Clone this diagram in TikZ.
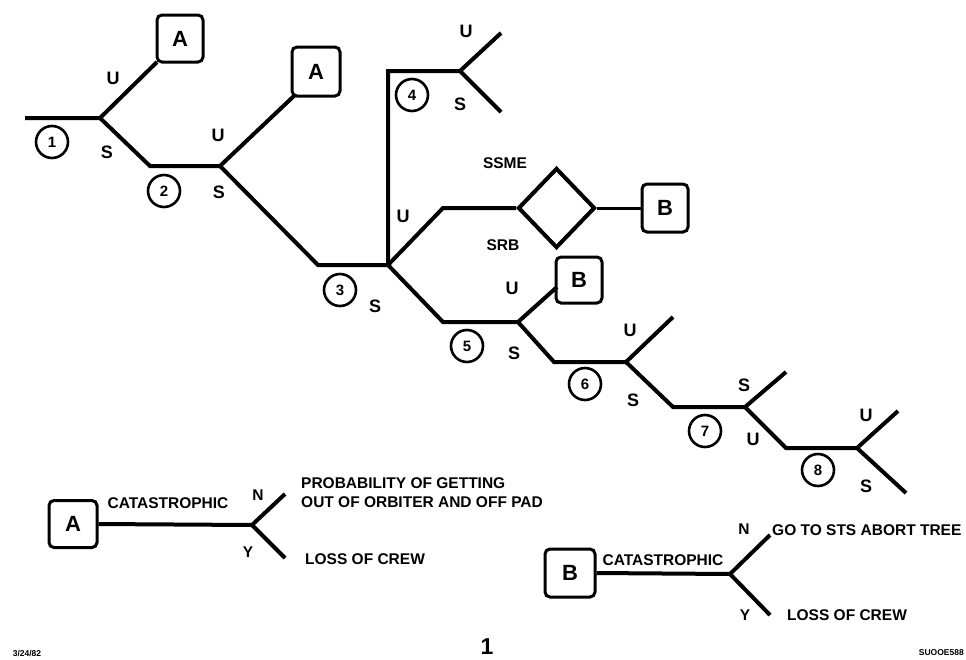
\documentclass[tikz,border=0pt]{standalone}
\usepackage{fontspec}
\setmainfont{Liberation Sans}
\usetikzlibrary{shapes.geometric}
\tikzset{
  tree/.style={line width=4pt, line join=miter, line cap=butt},
  endbox/.style={draw, line width=3pt, rounded corners=5pt, minimum width=46pt, minimum height=47pt, inner sep=0pt, font=\fontsize{22}{22}\selectfont\bfseries},
  num/.style={draw, circle, line width=2.6pt, minimum size=32pt, inner sep=0pt, font=\fontsize{15}{15}\selectfont\bfseries},
  lab/.style={font=\fontsize{18}{18}\selectfont\bfseries, inner sep=0pt},
  txt/.style={font=\fontsize{15.5}{19}\selectfont\bfseries, inner sep=0pt},
  dia/.style={draw, diamond, line width=4pt, minimum width=77pt, minimum height=80pt, inner sep=0pt},
}
\begin{document}
\begin{tikzpicture}[x=1pt, y=-1pt]
\useasboundingbox (0,0) rectangle (966,659);
% ---------- coordinates of the tree
\coordinate (st) at (25,118);
\coordinate (j1) at (100,118);
\coordinate (a1e) at (157,62);
\coordinate (b1) at (150,166);
\coordinate (j2) at (220,166);
\coordinate (a2e) at (295,95);
\coordinate (b2) at (318,265);
\coordinate (j3) at (388,265);
\coordinate (c4) at (388,71);
\coordinate (j4) at (460,71);
\coordinate (u4) at (501,33);
\coordinate (s4) at (501,112);
\coordinate (u3) at (443,208);
\coordinate (b3) at (443,322);
\coordinate (j5) at (518,322);
\coordinate (u5) at (557,287);
\coordinate (b5) at (554,362);
\coordinate (j6) at (626,362);
\coordinate (u6) at (673,317);
\coordinate (b6) at (673,407);
\coordinate (j7) at (745,407);
\coordinate (s7) at (786,372);
\coordinate (b7) at (786,448);
\coordinate (j8) at (857,448);
\coordinate (u8) at (898,411);
\coordinate (s8) at (906,493);
% ---------- end boxes and diamond
\node[endbox] (A1) at (180,38.5) {A};
\node[endbox, minimum width=48pt, minimum height=49pt] (A2) at (316,71.5) {A};
\node[dia] (D) at (556.5,208) {};
\node[endbox, minimum height=48pt] (B1) at (665,208) {B};
\node[endbox, minimum height=46pt] (B2) at (579,280) {B};
% ---------- tree lines
\draw[tree] (st) -- (j1) -- (a1e);
\draw[tree] (j1) -- (b1) -- (j2) -- (a2e);
\draw[tree] (j2) -- (b2) -- (j3);
\draw[tree] (j3) -- (c4) -- (j4) -- (u4);
\draw[tree] (j4) -- (s4);
\draw[tree] (j3) -- (u3) -- (D.west);
\draw[tree, line width=3pt] (D.east) -- (B1.west);
\draw[tree] (j3) -- (b3) -- (j5) -- (u5);
\draw[tree] (j5) -- (b5) -- (j6) -- (u6);
\draw[tree] (j6) -- (b6) -- (j7) -- (s7);
\draw[tree] (j7) -- (b7) -- (j8) -- (u8);
\draw[tree] (j8) -- (s8);
% ---------- numbered circles
\node[num] (n1) at (52,142) {1};
\node[num] (n2) at (164,191) {2};
\node[num] (n3) at (340,290) {3};
\node[num] (n4) at (412,95) {4};
\node[num] (n5) at (467,346) {5};
\node[num] (n6) at (585,384) {6};
\node[num] (n7) at (705,431) {7};
\node[num] (n8) at (818,470) {8};
% ---------- branch labels
\node[lab] (l1u) at (113,78) {U};
\node[lab] (l1s) at (107,152) {S};
\node[lab] (l2u) at (218,135) {U};
\node[lab] (l2s) at (219,192) {S};
\node[lab] (l3u) at (403,216) {U};
\node[lab] (l3s) at (375,306) {S};
\node[lab] (l4u) at (466,31) {U};
\node[lab] (l4s) at (460,104) {S};
\node[txt] (ssme) at (505,163) {SSME};
\node[txt] (srb) at (503,245) {SRB};
\node[lab] (l5u) at (512,288) {U};
\node[lab] (l5s) at (514,353) {S};
\node[lab] (l6u) at (630,330) {U};
\node[lab] (l6s) at (633,400) {S};
\node[lab] (l7s) at (744,385) {S};
\node[lab] (l7u) at (753,439) {U};
\node[lab] (l8u) at (866,415) {U};
\node[lab] (l8s) at (866,486) {S};
% ---------- legend A
\node[endbox, minimum width=48pt] (LA) at (73,524) {A};
\coordinate (ja) at (252,525);
\coordinate (na) at (285,494);
\coordinate (ya) at (285,558);
\draw[tree] (LA.east) -- (ja) -- (na);
\draw[tree] (ja) -- (ya);
\node[txt] (cata) at (168,503) {CATASTROPHIC};
\node[txt] (nA) at (258,495) {N};
\node[txt] (yA) at (248,552) {Y};
\node[txt, anchor=west, align=left] (probA) at (301,492.5) {PROBABILITY OF GETTING\\OUT OF ORBITER AND OFF PAD};
\node[txt, anchor=west] (lossA) at (305,559) {LOSS OF CREW};
% ---------- legend B
\node[endbox, minimum width=50pt, minimum height=48pt] (LB) at (570,573) {B};
\coordinate (jb) at (730,574);
\coordinate (nb) at (770,535);
\coordinate (yb) at (770,615);
\draw[tree] (LB.east) -- (jb) -- (nb);
\draw[tree] (jb) -- (yb);
\node[txt] (catb) at (663,560) {CATASTROPHIC};
\node[txt] (nB) at (744,529) {N};
\node[txt] (yB) at (745,615) {Y};
\node[txt, anchor=west] (goB) at (772,530) {GO TO STS ABORT TREE};
\node[txt, anchor=west] (lossB) at (787,615) {LOSS OF CREW};
% ---------- footer
\node[font=\fontsize{8.5}{8.5}\selectfont\bfseries, inner sep=0pt] (date) at (27,653) {3/24/82};
\node[font=\fontsize{23}{23}\selectfont\bfseries, inner sep=0pt] (page) at (487,647) {1};
\node[font=\fontsize{8.5}{8.5}\selectfont\bfseries, inner sep=0pt, anchor=east] (code) at (964,653) {SUOOE588};
\end{tikzpicture}
\end{document}
